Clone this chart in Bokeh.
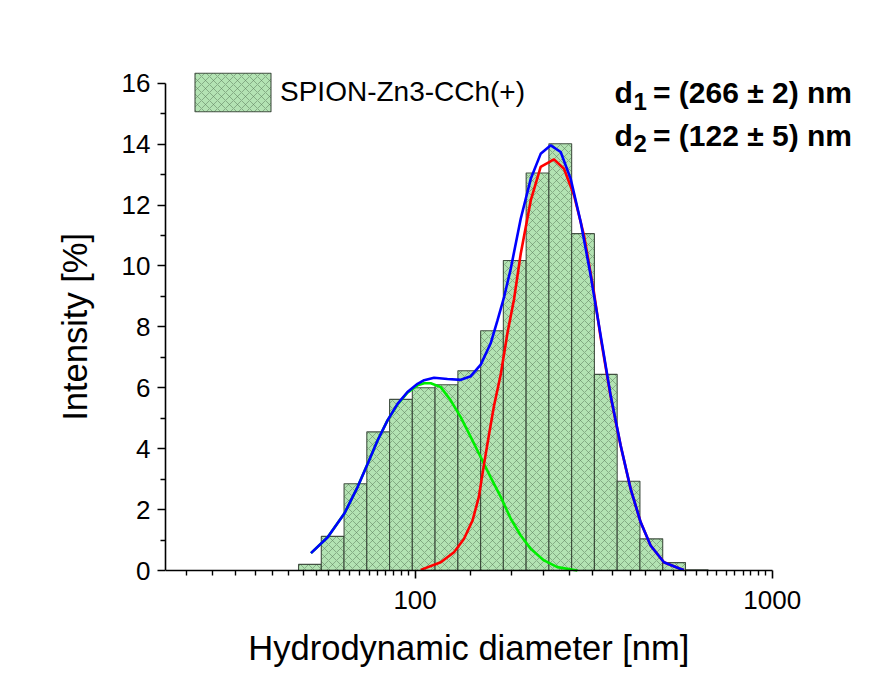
import math
from bokeh.plotting import figure
from bokeh.models import (Range1d, FixedTicker, PrintfTickFormatter, Legend, LegendItem,
                          Label, LogAxis, LinearAxis, LogScale, Title)
from bokeh.embed import file_html
from bokeh.resources import INLINE

# ---------------- data ----------------
sizes = [50.75, 58.77, 68.06, 78.82, 91.28, 105.7, 122.4, 141.8, 164.2, 190.1,
         220.2, 255.0, 295.3, 342.0, 396.1, 458.7, 531.2, 615.1]
intensity = [0.2, 1.12, 2.85, 4.55, 5.62, 6.0, 6.1, 6.56, 7.87, 10.18,
             13.05, 14.01, 11.06, 6.44, 2.93, 1.04, 0.26, 0.02]

fit_total_x = [51.1, 56.9, 63.3, 69.0, 73.6, 78.5, 83.7, 89.3, 95.2, 101.6, 106.0,
               113.0, 123.2, 134.3, 143.2, 152.7, 162.8, 170.1, 177.5, 185.3, 197.6,
               210.8, 224.7, 239.8, 255.7, 272.7, 290.9, 310.2, 330.8, 352.8, 376.3,
               401.4, 428.0, 456.5, 497.5, 553.9, 566.0]
fit_total_y = [0.57, 1.09, 1.86, 2.74, 3.50, 4.27, 4.93, 5.47, 5.86, 6.13, 6.25,
               6.33, 6.29, 6.26, 6.38, 6.76, 7.46, 8.21, 8.98, 9.91, 11.55,
               12.86, 13.68, 13.96, 13.74, 12.86, 11.44, 9.69, 7.72, 5.75, 4.11,
               2.68, 1.59, 0.82, 0.27, 0.05, 0.02]

peak1_x = [103.7, 118.0, 128.5, 137.1, 144.8, 150.8, 156.0, 161.2, 166.3, 173.8,
           181.4, 189.2, 197.6, 210.8, 224.7, 244.9, 261.2, 278.6, 297.2, 316.8,
           330.8, 352.8, 376.3, 401.4, 428.0, 456.5, 497.5, 553.9, 566.0]
peak1_y = [0.02, 0.27, 0.60, 1.04, 1.64, 2.41, 3.50, 4.49, 5.40, 6.45,
           7.80, 8.90, 10.40, 12.15, 13.25, 13.50, 13.19, 12.32, 11.0, 9.14,
           7.65, 5.72, 4.10, 2.68, 1.59, 0.82, 0.27, 0.05, 0.02]

peak2_x = [51.1, 56.9, 63.3, 69.0, 73.6, 78.5, 83.7, 89.3, 95.2, 101.6, 106.0,
           110.6, 118.0, 125.9, 134.3, 143.2, 152.7, 162.8, 173.8, 185.3, 197.6,
           210.8, 229.6, 250.2, 284.7]
peak2_y = [0.57, 1.09, 1.86, 2.74, 3.50, 4.27, 4.93, 5.45, 5.84, 6.08, 6.15,
           6.15, 6.02, 5.58, 5.03, 4.38, 3.72, 3.06, 2.41, 1.70, 1.15,
           0.71, 0.33, 0.11, 0.0]

legend_label = "SPION-Zn3-CCh(+)"
d1_text = ("d", "1", "= (266 \u00b1 2) nm")
d2_text = ("d", "2", "= (122 \u00b1 5) nm")
x_label = "Hydrodynamic diameter [nm]"
y_label = "Intensity [%]"

X_MIN, X_MAX = 20, 1000
Y_MIN, Y_MAX = 0, 16

# ---------------- figure geometry ----------------
W, H = 883, 675
AX_L, AX_R, AX_T, AX_B = 165, 771.7, 82.7, 570   # axis extents in pixels
FR, FT, FB = 880, 50, 675   # frame is larger than the axes so texts are not clipped
decade_px = (AX_R - AX_L) / (math.log10(X_MAX) - math.log10(X_MIN))
x_end = 10 ** (math.log10(X_MAX) + (FR - AX_R) / decade_px)
unit_px = (AX_B - AX_T) / (Y_MAX - Y_MIN)
y_end = Y_MAX + (AX_T - FT) / unit_px
y_start = Y_MIN - (FB - AX_B) / unit_px

p = figure(width=W, height=H, x_axis_type=None, y_axis_type=None,
           x_range=Range1d(X_MIN, x_end), y_range=Range1d(y_start, y_end),
           output_backend="svg", toolbar_location=None,
           min_border_left=AX_L, min_border_right=W - FR,
           min_border_top=FT, min_border_bottom=H - FB,
           background_fill_color="white", border_fill_color="white")
p.outline_line_color = None
p.x_scale = LogScale()

FONT = "Liberation Sans"

# x axis (log, minor ticks linear within decades as in the original)
minor_x = []
for dec in (10, 100):
    for k in range(1, 21):
        v = dec + k * (dec * 9) / 21.0
        if X_MIN < v < X_MAX:
            minor_x.append(v)
xaxis = LogAxis(ticker=FixedTicker(ticks=[100, 1000], minor_ticks=minor_x),
                formatter=PrintfTickFormatter(format="%d"), bounds=(X_MIN, X_MAX),
                fixed_location=Y_MIN)
yaxis = LinearAxis(ticker=FixedTicker(ticks=list(range(0, 17, 2)),
                                      minor_ticks=list(range(1, 16, 2))),
                   bounds=(Y_MIN, Y_MAX))
for ax in (xaxis, yaxis):
    ax.axis_line_color = "black"
    ax.axis_line_width = 1.6
    ax.major_tick_line_color = "black"
    ax.major_tick_line_width = 1.6
    ax.minor_tick_line_color = "black"
    ax.minor_tick_line_width = 1.4
    ax.major_tick_in = 0
    ax.major_tick_out = 8
    ax.minor_tick_in = 0
    ax.minor_tick_out = 5
    ax.major_label_text_font = FONT
    ax.major_label_text_font_size = "26px"
    ax.major_label_text_color = "black"
xaxis.major_label_standoff = 12
yaxis.major_label_standoff = 7
p.add_layout(xaxis, "below")
p.add_layout(yaxis, "left")

# axis titles, positioned along the axes' own extent
AXIS_TITLE_SIZE = 34.5
yw = 5.447 * AXIS_TITLE_SIZE           # advance width of the y title (Arial metrics)
y_title = Title(text=y_label, align="left", offset=FB - ((AX_T + AX_B) / 2 + yw / 2),
                vertical_align="bottom", standoff=50, text_font=FONT,
                text_font_size=f"{AXIS_TITLE_SIZE}px", text_font_style="normal",
                text_color="black")
p.add_layout(y_title, "left")

def fx(px):
    return 10 ** (math.log10(X_MIN) + (px - AX_L) / decade_px)

def fy(py):
    return Y_MIN + (AX_B - py) / unit_px

MID = 0.347  # baseline-to-visual-middle distance, in em

p.add_layout(Label(x=fx((AX_L + AX_R) / 2), y=fy(659 - MID * AXIS_TITLE_SIZE), text=x_label,
                   text_align="center", text_baseline="middle", text_font=FONT,
                   text_font_size=f"{AXIS_TITLE_SIZE}px", text_color="black"))

# ---------------- histogram bars ----------------
half = math.log10(sizes[1] / sizes[0]) / 2.0
lefts = [s / 10 ** half for s in sizes]
rights = [s * 10 ** half for s in sizes]
bars = p.quad(left=lefts, right=rights, bottom=0, top=intensity,
              fill_color="#b3e3b3", fill_alpha=1.0,
              line_color="#334033", line_width=1.1, line_alpha=0.9,
              hatch_pattern="diagonal_cross", hatch_color="#5f825f",
              hatch_alpha=0.8, hatch_scale=8, hatch_weight=0.7)

# ---------------- fit curves ----------------
p.line(peak2_x, peak2_y, line_color="#00ee00", line_width=2.6)
p.line(peak1_x, peak1_y, line_color="#ff0000", line_width=2.6)
p.line(fit_total_x, fit_total_y, line_color="#0000ff", line_width=2.6)

# ---------------- legend ----------------
# Bokeh insets an area glyph by 10% on each side; glyph box 76x38 px drawn
legend = Legend(items=[LegendItem(label=legend_label, renderers=[bars])],
                location=(20, int(round(FB - 116))), orientation="vertical",
                glyph_width=95, glyph_height=48, label_height=48,
                label_standoff=0, padding=0, margin=0, spacing=0,
                border_line_color=None, background_fill_alpha=0,
                label_text_font=FONT, label_text_font_size="28px",
                label_text_color="black", label_text_baseline="middle")
p.add_layout(legend, "center")

# ---------------- d1/d2 annotations ----------------
def add_eq(parts, base):
    main, sub, rest = parts
    common = dict(text_font=FONT, text_font_style="bold", text_baseline="middle",
                  text_align="left", text_color="black")
    p.add_layout(Label(x=fx(614), y=fy(base - MID * 30), text=main,
                       text_font_size="30px", **common))
    p.add_layout(Label(x=fx(633), y=fy(base + 6.5 - MID * 24), text=sub,
                       text_font_size="24px", **common))
    p.add_layout(Label(x=fx(652.5), y=fy(base - MID * 30), text=rest,
                       text_font_size="30px", **common))

add_eq(d1_text, 102.5)
add_eq(d2_text, 145.0)

open("out.html", "w").write(file_html(p, INLINE))
